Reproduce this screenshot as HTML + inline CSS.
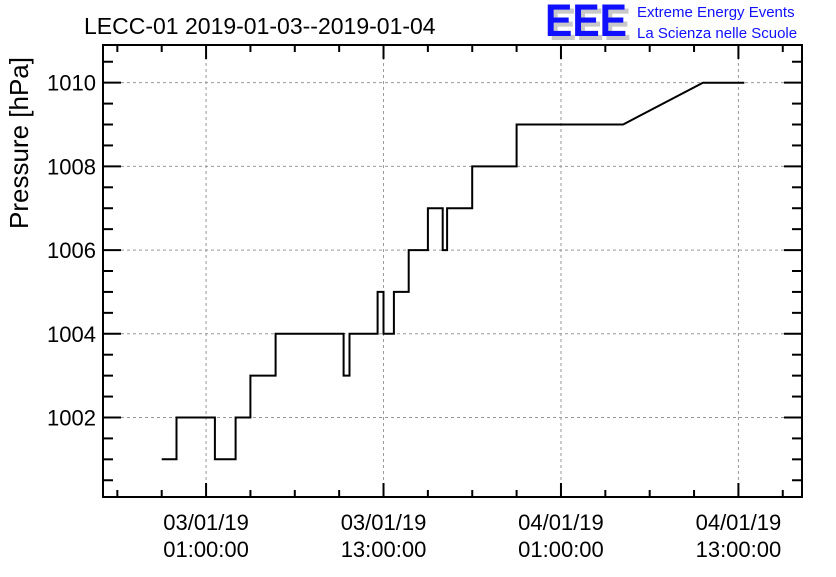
<!DOCTYPE html>
<html><head><meta charset="utf-8"><style>
body{margin:0;background:#fff;}
svg text{font-family:"Liberation Sans",sans-serif;}
</style></head><body>
<svg id="chart" width="836" height="572" viewBox="0 0 836 572" xmlns="http://www.w3.org/2000/svg">
<rect width="836" height="572" fill="#fff"/>
<text x="84" y="34" font-size="23" fill="#000">LECC-01 2019-01-03--2019-01-04</text>
<g>
<text x="549" y="40" font-size="45" font-weight="bold" fill="#c8c8c8" textLength="82" lengthAdjust="spacingAndGlyphs">EEE</text>
<text x="545" y="36" font-size="45" font-weight="bold" fill="#1010ff" textLength="82" lengthAdjust="spacingAndGlyphs">EEE</text>
<text x="637" y="17" font-size="15" fill="#1010ff">Extreme Energy Events</text>
<text x="637" y="38" font-size="15" fill="#1010ff">La Scienza nelle Scuole</text>
</g>
<text transform="translate(28,143) rotate(-90)" text-anchor="middle" font-size="26" fill="#000">Pressure [hPa]</text>
<g id="grid"></g><g id="axes"></g><g id="series"></g>
</svg>
<script>
const times = [-2, -1, -1, 1.6, 1.6, 3, 3, 4, 4, 5.7, 5.7, 10.3, 10.3, 10.7, 10.7, 12.6, 12.6, 13, 13, 13.7, 13.7, 14.7, 14.7, 16, 16, 17, 17, 17.3, 17.3, 19, 19, 22, 22, 29.2, 34.6, 37.4];
const pressures = [1001, 1001, 1002, 1002, 1001, 1001, 1002, 1002, 1003, 1003, 1004, 1004, 1003, 1003, 1004, 1004, 1005, 1005, 1004, 1004, 1005, 1005, 1006, 1006, 1007, 1007, 1006, 1006, 1007, 1007, 1008, 1008, 1009, 1009, 1010, 1010];
const yTicks = [1002, 1004, 1006, 1008, 1010];
const xTickHours = [1, 13, 25, 37];
const xTickLabels = [["03/01/19","01:00:00"],["03/01/19","13:00:00"],["04/01/19","01:00:00"],["04/01/19","13:00:00"]];

const L=103,R=802,T=45,B=497;
const hMin=-5.97,hMax=41.3,pMin=1000.1,pMax=1010.9;
const X=h=>L+(h-hMin)/(hMax-hMin)*(R-L);
const Y=p=>B-(p-pMin)/(pMax-pMin)*(B-T);
const NS="http://www.w3.org/2000/svg";
function mk(tag,attrs,parent){const e=document.createElementNS(NS,tag);for(const k in attrs)e.setAttribute(k,attrs[k]);parent.appendChild(e);return e;}
const grid=document.getElementById('grid'),axes=document.getElementById('axes'),series=document.getElementById('series');

yTicks.forEach(v=>{
  const g=mk('line',{x1:L,x2:R,y1:Y(v),y2:Y(v),stroke:'#999','stroke-dasharray':'3,3','stroke-width':1},grid);
  
  
  const t=mk('text',{x:L-7,y:Y(v)+8,'text-anchor':'end','font-size':22,fill:'#000'},axes);
  t.textContent=v;
  
  
});
for(let v=1000.5;v<=1010.9;v+=0.5){
  const major=Math.abs(v/2-Math.round(v/2))<1e-6;
  const len=major?18:10;
  mk('line',{x1:L,x2:L+len,y1:Y(v),y2:Y(v),stroke:'#000','stroke-width':2},axes);
  mk('line',{x1:R,x2:R-len,y1:Y(v),y2:Y(v),stroke:'#000','stroke-width':2},axes);
}
xTickHours.forEach((h,i)=>{
  const g=mk('line',{x1:X(h),x2:X(h),y1:T,y2:B,stroke:'#999','stroke-dasharray':'3,3','stroke-width':1},grid);
  
  
  const t=mk('text',{x:X(h),y:530,'text-anchor':'middle','font-size':22,fill:'#000'},axes);
  
  
  mk('tspan',{x:X(h),dy:0},t).textContent=xTickLabels[i][0];
  mk('tspan',{x:X(h),dy:27},t).textContent=xTickLabels[i][1];
});
for(let h=-5;h<=hMax;h+=3){
  const major=((h-1)%12+12)%12===0;
  const len=major?14:7;
  mk('line',{x1:X(h),x2:X(h),y1:B,y2:B-len,stroke:'#000','stroke-width':2},axes);
  mk('line',{x1:X(h),x2:X(h),y1:T,y2:T+len,stroke:'#000','stroke-width':2},axes);
}
const fr=mk('rect',{x:L,y:T,width:R-L,height:B-T,fill:'none',stroke:'#000','stroke-width':2},axes);


const pts=times.map((h,i)=>X(h).toFixed(1)+','+Y(pressures[i]).toFixed(1)).join(' ');
const line=mk('polyline',{points:pts,fill:'none',stroke:'#000','stroke-width':2},series);


</script>
</body></html>
